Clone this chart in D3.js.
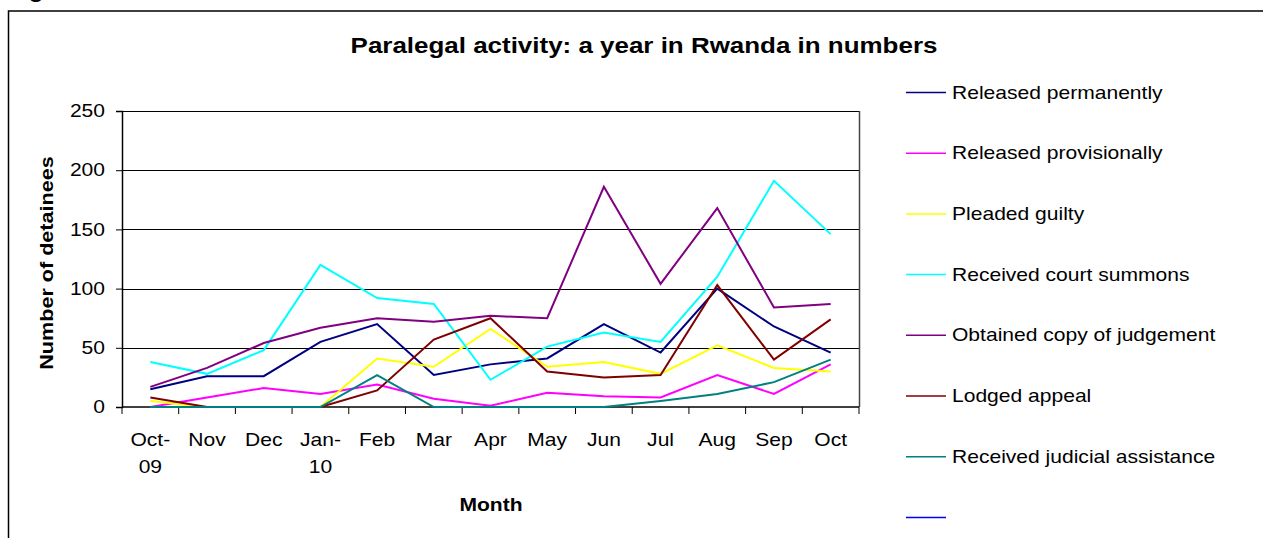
<!DOCTYPE html>
<html><head><meta charset="utf-8">
<script src="https://cdn.jsdelivr.net/npm/d3@7"></script>
<style>
html,body{margin:0;padding:0;background:#fff;}
text{font-family:"Liberation Sans",Arial,sans-serif;fill:#000;}
</style></head>
<body>
<svg id="chart" width="1263" height="538"></svg>
<script>
const months = [["Oct-","09"],["Nov"],["Dec"],["Jan-","10"],["Feb"],["Mar"],["Apr"],["May"],["Jun"],["Jul"],["Aug"],["Sep"],["Oct"]];
const yTicks = [0,50,100,150,200,250];
const seriesNames = ["Released permanently","Released provisionally","Pleaded guilty","Received court summons","Obtained copy of judgement","Lodged appeal","Received judicial assistance",""];
const seriesColors = ["#000080","#FF00FF","#FFFF00","#00FFFF","#800080","#800000","#008080","#0000FF"];
const releasedPermanently   = [15,26,26,55,70,27,36,41,70,46,100,68,46];
const releasedProvisionally = [0,8,16,11,19,7,1,12,9,8,27,11,36];
const pleadedGuilty         = [5,0,0,0,41,34,66,34,38,28,52,33,30];
const courtSummons          = [38,28,48,120,92,87,23,51,63,55,110,191,146];
const copyOfJudgement       = [17,33,54,67,75,72,77,75,186,104,168,84,87];
const lodgedAppeal          = [8,0,0,0,14,57,75,30,25,27,103,40,74];
const judicialAssistance    = [0,0,0,0,27,0,0,0,0,5,11,21,40];
const unnamedSeries         = [];
const seriesValues = [releasedPermanently,releasedProvisionally,pleadedGuilty,courtSummons,copyOfJudgement,lodgedAppeal,judicialAssistance,unnamedSeries];

const SX = 1.17; // horizontal stretch of the reference's lettering
const svg = d3.select("#chart");
// cut-off caption fragment and chart border
svg.append("text").attr("transform",`translate(29,-2) scale(${SX},1)`).attr("font-size",20).attr("font-weight","bold").text("g");
svg.append("rect").attr("x",8.5).attr("y",11).attr("width",1300).attr("height",600)
  .attr("fill","none").attr("stroke","#000").attr("stroke-width",1.5);

const L=122,R=859,T=111,B=407;
const x = d3.scaleBand().domain(d3.range(months.length)).range([L,R]);
const y = d3.scaleLinear().domain([0,250]).range([B,T]);

// gridlines
svg.append("g").selectAll("line").data(yTicks.filter(d=>d>0)).join("line")
  .attr("x1",L).attr("x2",R).attr("y1",d=>Math.round(y(d))+0.5).attr("y2",d=>Math.round(y(d))+0.5)
  .attr("stroke","#000").attr("stroke-width",1);
// right border
svg.append("line").attr("x1",R+0.5).attr("x2",R+0.5).attr("y1",T).attr("y2",B).attr("stroke","#444").attr("stroke-width",1.5);

// y axis
const yAxis = svg.append("g").attr("transform",`translate(${L},0)`)
  .call(d3.axisLeft(y).tickValues(yTicks).tickSize(6).tickPadding(10));
yAxis.select(".domain").attr("stroke","#000").attr("stroke-width",1.5);
yAxis.selectAll(".tick text").each(function(){
  const t=d3.select(this);
  const xx=+t.attr("x");
  t.attr("x",null).attr("transform",`translate(${xx-1},0) scale(${SX},1)`);
}).attr("font-size",18).attr("font-family","Liberation Sans, Arial, sans-serif").attr("fill","#000");

// x axis
const xAxis = svg.append("g").attr("transform",`translate(0,${B})`);
xAxis.append("line").attr("x1",L).attr("x2",R).attr("y1",0).attr("y2",0).attr("stroke","#000").attr("stroke-width",1.5);
const bounds = d3.range(months.length+1).map(i=> i<months.length ? x(i) : x(months.length-1)+x.bandwidth());
xAxis.selectAll("line.tk").data(bounds).join("line").attr("class","tk")
  .attr("x1",d=>d).attr("x2",d=>d).attr("y1",0).attr("y2",7).attr("stroke","#000").attr("stroke-width",1);
const xl = xAxis.selectAll("text.lab").data(months).join("text").attr("class","lab")
  .attr("transform",(d,i)=>`translate(${x(i)+x.bandwidth()/2},0) scale(${SX},1)`)
  .attr("text-anchor","middle").attr("font-size",18);
xl.each(function(d){
  const t=d3.select(this);
  d.forEach((s,j)=>t.append("tspan").attr("x",0).attr("y",39+j*27).text(s));
});

// axis titles
svg.append("text").attr("transform",`translate(491,511) scale(${SX},1)`).attr("text-anchor","middle").attr("font-weight","bold").attr("font-size",18).text("Month");
svg.append("text").attr("transform",`translate(53,263) rotate(-90) scale(1.2,1)`).attr("text-anchor","middle").attr("font-weight","bold").attr("font-size",18).text("Number of detainees");

// title
svg.append("text").attr("transform",`translate(644,53) scale(1.18,1)`).attr("text-anchor","middle").attr("font-weight","bold").attr("font-size",22).text("Paralegal activity: a year in Rwanda in numbers");

// lines
const line = d3.line().x((d,i)=>x(i)+x.bandwidth()/2).y(d=>y(d));
svg.append("g").selectAll("path").data(seriesValues).join("path")
  .attr("d",d=>d.length?line(d):null).attr("fill","none")
  .attr("stroke",(d,i)=>seriesColors[i]).attr("stroke-width",2).attr("stroke-linejoin","miter");

// legend
const leg = svg.append("g").selectAll("g").data(seriesNames).join("g")
  .attr("transform",(d,i)=>`translate(906,${92.5+i*60.7})`);
leg.append("line").attr("x1",0).attr("x2",40).attr("y1",0).attr("y2",0).attr("stroke",(d,i)=>seriesColors[i]).attr("stroke-width",1.5);
leg.append("text").attr("transform",`translate(46,6) scale(${SX},1)`).attr("font-size",18).text(d=>d);
</script>
</body></html>
